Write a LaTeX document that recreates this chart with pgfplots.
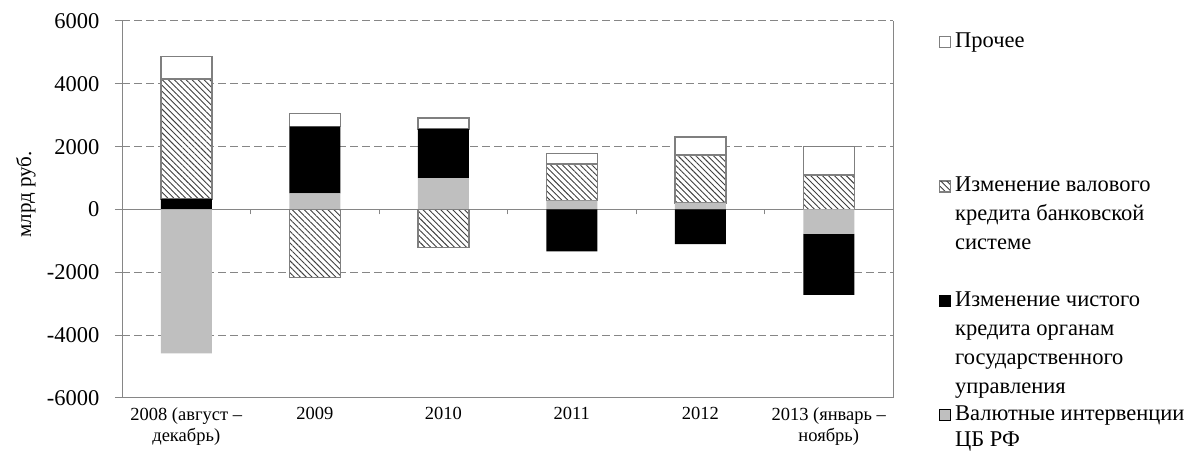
\documentclass[border=0pt]{standalone}
\usepackage{pgfplots}
\pgfplotsset{compat=1.18}
\usepackage{pgfplotstable}
\usepackage{fontspec}
\setmainfont{Liberation Serif}
\usetikzlibrary{patterns.meta}
\definecolor{axgray}{HTML}{868686}
\definecolor{bargray}{HTML}{BFBFBF}
\definecolor{edgegray}{HTML}{7F7F7F}
\definecolor{hatchcol}{HTML}{404040}

\pgfplotstableread{
x grey black hatch other
0 0 335 3820 710
1 515 2120 0 415
2 995 1570 0 350
3 280 0 1170 330
4 207 0 1520 585
5 0 0 1100 900
}\posdata
\pgfplotstableread{
x hatch grey black
0 0 -4580 0
1 -2170 0 0
2 -1205 0 0
3 0 0 -1330
4 0 0 -1100
5 0 -780 -1940
}\negdata

\pgfplotsset{
  common/.style={
    scale only axis, width=771bp, height=377bp,
    xmin=-0.5, xmax=5.5, ymin=-6000, ymax=6000,
    ybar stacked, bar width=51bp,
    every axis plot post/.append style={
      /pgfplots/legend image code/.code={\draw[##1,line width=1bp] (0bp,0bp) rectangle (11bp,11bp);}},
  },
  otherst/.style={fill=white, draw=edgegray, line width=1.5bp},
  hatchst/.style={preaction={fill=white}, pattern={Lines[angle=-45,distance=4.2bp,line width=0.9bp]}, pattern color=hatchcol, draw=edgegray, line width=1.5bp},
  blackst/.style={fill=black, draw=none},
  greyst/.style={fill=bargray, draw=none},
}

\begin{document}
\begin{tikzpicture}
\begin{axis}[common, name=ax,
  axis x line*=bottom, axis y line*=box,
  axis line style={axgray, line width=1bp},
  ymajorgrids, major grid style={axgray, dash pattern=on 8bp off 4bp, line width=1bp},
  ytick={-6000,-4000,...,6000},
  yticklabels={-6000,-4000,-2000,0,2000,4000,6000},
  ytick pos=left, ytick align=outside, major tick length=7bp,
  tick style={axgray, line width=1bp},
  xtick={0,...,5},
  xticklabels={{2008 (август –\\декабрь)},2009,2010,2011,2012,{2013 (январь –\\ноябрь)}},
  xtick style={draw=none},
  x tick label style={font=\fontsize{18.5bp}{21bp}\selectfont, align=center, yshift=-6bp},
  y tick label style={font=\fontsize{22.5bp}{27bp}\selectfont, xshift=-12bp},
  ylabel={млрд руб.},
  every axis y label/.style={at={(axis description cs:0,0.5)}, rotate=90, anchor=center, xshift=15bp, yshift=96bp, font=\fontsize{21bp}{25bp}\selectfont},
  reverse legend,
  legend style={at={(1,1)}, anchor=north west, xshift=46bp, yshift=-12bp, draw=none, fill=none, inner sep=0pt,
    font=\fontsize{22.5bp}{29bp}\selectfont, cells={anchor=base west},
    nodes={inner sep=0pt, text depth=},
    /tikz/every odd column/.append style={column sep=4bp}},
]
\addplot[greyst] table[x=x,y=grey]{\posdata};
\addlegendentry{\parbox[t][52bp][t]{235bp}{\fontsize{22.5bp}{26bp}\selectfont\raggedright Валютные интервенции\\ЦБ РФ}}
\addplot[blackst] table[x=x,y=black]{\posdata};
\addlegendentry{\parbox[t][114bp][t]{235bp}{\raggedright Изменение чистого\\кредита органам\\государственного\\управления}}
\addplot[hatchst] table[x=x,y=hatch]{\posdata};
\addlegendentry{\parbox[t][115bp][t]{235bp}{\raggedright Изменение валового\\кредита банковской\\системе}}
\addplot[otherst] table[x=x,y=other]{\posdata};
\addlegendentry{\parbox[t][144bp][t]{235bp}{\raggedright Прочее}}
\end{axis}
\begin{axis}[common,
  axis y line=none, axis x line=middle,
  axis line style={axgray, line width=1.5bp, -},
  xtick={0.5,1.5,...,4.5}, xticklabels={}, ytick=\empty,
  tick align=outside, major tick length=5bp,
  tick style={axgray, line width=1bp},
]
\addplot[hatchst] table[x=x,y=hatch]{\negdata};
\addplot[greyst] table[x=x,y=grey]{\negdata};
\addplot[blackst] table[x=x,y=black]{\negdata};
\end{axis}
\pgfresetboundingbox
\path[use as bounding box] ([xshift=-122bp,yshift=-54bp]ax.south west) rectangle ([xshift=302bp,yshift=21bp]ax.north east);
\end{tikzpicture}
\end{document}
